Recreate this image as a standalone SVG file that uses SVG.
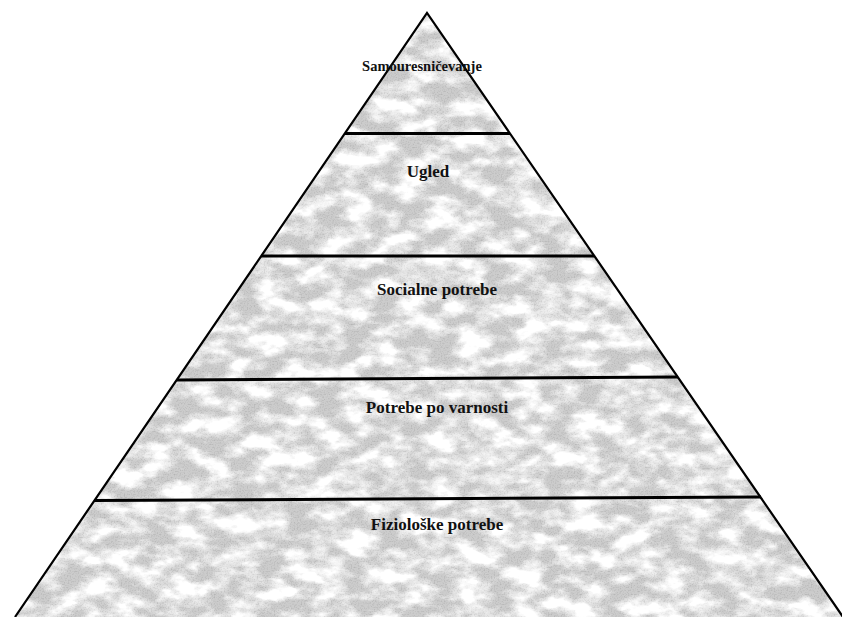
<svg xmlns="http://www.w3.org/2000/svg" width="842" height="617" viewBox="0 0 842 617">
  <style>
    .lbl { font-family: "Liberation Serif", "Times New Roman", serif; font-weight: bold; fill: #111; text-anchor: middle; }
    .div { stroke: #000; stroke-width: 3; fill: none; }
    .edge { stroke: #000; stroke-width: 2.2; fill: none; stroke-linejoin: miter; }
  </style>
  <defs>
    <filter id="tex" x="0" y="0" width="1" height="1" filterUnits="objectBoundingBox" color-interpolation-filters="sRGB">
      <feTurbulence type="fractalNoise" baseFrequency="0.035 0.06" numOctaves="4" seed="7" result="n"/>
      <feColorMatrix in="n" type="matrix" values="0 0 0 0 0.8  0 0 0 0 0.8  0 0 0 0 0.8  3.2 0 0 0 -1.05" result="g"/>
      <feTurbulence type="fractalNoise" baseFrequency="0.7" numOctaves="1" seed="2" result="f"/>
      <feColorMatrix in="f" type="matrix" values="0 0 0 0 0.68  0 0 0 0 0.68  0 0 0 0 0.68  2.2 0 0 0 -1.05" result="fg"/>
      <feComposite in="fg" in2="g" operator="in" result="fg2"/>
      <feMerge result="m"><feMergeNode in="g"/><feMergeNode in="fg2"/></feMerge>
      <feComposite in="m" in2="SourceGraphic" operator="in"/>
    </filter>
  </defs>
  <rect width="842" height="617" fill="#fff"/>
  <g id="pyramid">
    <polygon points="427,13 15,617 843,617" fill="#fff"/>
    <polygon points="427,13 15,617 843,617" fill="#fff" filter="url(#tex)"/>
    <polyline class="edge" points="15,617 427,13 843,617"/>
  </g>
  <g id="connectors">
    <line class="div" x1="345" y1="133.5" x2="510" y2="133.5"/>
    <line class="div" x1="261" y1="256" x2="594" y2="256"/>
    <line class="div" x1="177" y1="380" x2="678" y2="377"/>
    <line class="div" x1="94" y1="500.5" x2="761" y2="497"/>
  </g>
  <g id="level5"><text class="lbl" x="422" y="71" font-size="14.5">Samouresničevanje</text></g>
  <g id="level4"><text class="lbl" x="428" y="177" font-size="17">Ugled</text></g>
  <g id="level3"><text class="lbl" x="437" y="295" font-size="17">Socialne potrebe</text></g>
  <g id="level2"><text class="lbl" x="437" y="413" font-size="17">Potrebe po varnosti</text></g>
  <g id="level1"><text class="lbl" x="437" y="530" font-size="17">Fiziološke potrebe</text></g>
</svg>
